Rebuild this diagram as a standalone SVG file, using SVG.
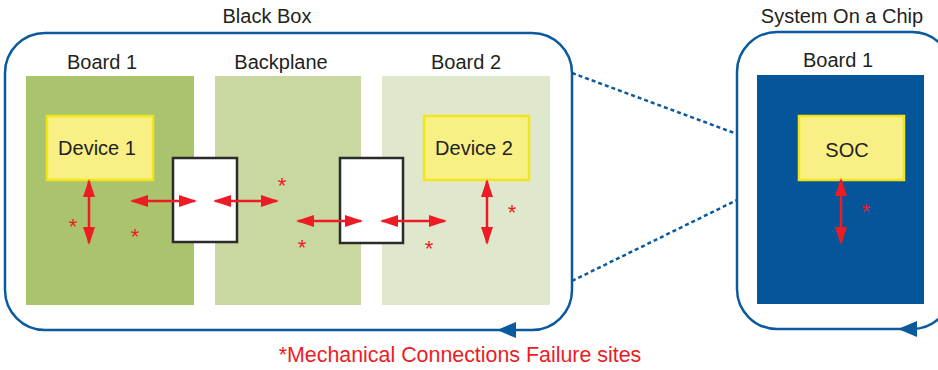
<svg xmlns="http://www.w3.org/2000/svg" width="938" height="370" viewBox="0 0 938 370">
<style>
text{font-family:"Liberation Sans",Arial,sans-serif;font-size:20px;fill:#231f20;text-anchor:middle}
.frame{fill:none;stroke:#0b5a9e;stroke-width:2.5}
.dash{fill:none;stroke:#0b5a9e;stroke-width:2.5;stroke-dasharray:4 3}
.dev{fill:#f8ef85;stroke:#f2e51c;stroke-width:2.5}
.conn{fill:#fff;stroke:#2b2b2b;stroke-width:2.5}
.ra{stroke:#ed1c24;stroke-width:2.5;fill:none;marker-start:url(#rh);marker-end:url(#rh)}
.ast{fill:#ed1c24;font-size:22px}
.tip{fill:#0b5a9e}
</style>
<defs>
<marker id="rh" markerUnits="userSpaceOnUse" markerWidth="18" markerHeight="12" viewBox="0 0 18 12" refX="16" refY="6" orient="auto-start-reverse">
<path d="M0,0 L18,6 L0,12 z" fill="#ed1c24"/>
</marker>
</defs>
<g id="black-box">
<rect class="frame" x="5" y="33" width="567" height="297" rx="40"/>
<path class="tip" d="M497,330 L516,322 L516,338 z"/>
<text x="267" y="23">Black Box</text>
</g>
<g id="board1">
<rect x="26" y="76" width="168" height="229" fill="#a9c46c"/>
<text x="102" y="69">Board 1</text>
</g>
<g id="backplane">
<rect x="215" y="76" width="146" height="229" fill="#c8d8a0"/>
<text x="281" y="69">Backplane</text>
</g>
<g id="board2">
<rect x="382" y="76" width="168" height="229" fill="#dfe8cc"/>
<text x="466" y="69">Board 2</text>
</g>
<g id="device1">
<rect class="dev" x="47" y="116" width="106" height="64"/>
<text x="97" y="155">Device 1</text>
</g>
<g id="device2">
<rect class="dev" x="424" y="116" width="105" height="64"/>
<text x="474" y="155">Device 2</text>
</g>
<g id="connector1">
<rect class="conn" x="173" y="158" width="64" height="84"/>
</g>
<g id="connector2">
<rect class="conn" x="340" y="158" width="63" height="85"/>
</g>
<g id="soc-box">
<rect class="frame" x="737" y="32" width="215" height="297" rx="40"/>
<path class="tip" d="M898,329 L917,321 L917,337 z"/>
<text x="842" y="23">System On a Chip</text>
</g>
<g id="soc-board">
<rect x="757" y="75" width="167" height="229" fill="#04559a"/>
<text x="838" y="67">Board 1</text>
</g>
<g id="soc">
<rect class="dev" x="799" y="116" width="105" height="64"/>
<text x="847" y="157">SOC</text>
</g>
<g id="connectors">
<line class="dash" x1="572" y1="73" x2="737" y2="134"/>
<line class="dash" x1="572" y1="281" x2="737" y2="200"/>
<line class="ra" x1="89" y1="181" x2="89" y2="243"/>
<line class="ra" x1="132" y1="201" x2="195" y2="201"/>
<line class="ra" x1="215" y1="201" x2="277" y2="201"/>
<line class="ra" x1="298" y1="221" x2="361" y2="221"/>
<line class="ra" x1="382" y1="221" x2="445" y2="221"/>
<line class="ra" x1="487" y1="181" x2="487" y2="243"/>
<line class="ra" x1="841" y1="180" x2="841" y2="243"/>
</g>
<g id="failure-sites">
<text class="ast" x="73" y="234">*</text>
<text class="ast" x="135" y="244">*</text>
<text class="ast" x="282" y="193">*</text>
<text class="ast" x="302" y="255">*</text>
<text class="ast" x="429" y="256">*</text>
<text class="ast" x="512" y="220">*</text>
<text class="ast" x="866" y="219">*</text>
</g>
<text x="460" y="362" style="fill:#ed1c24;font-size:21.4px">*Mechanical Connections Failure sites</text>
</svg>
